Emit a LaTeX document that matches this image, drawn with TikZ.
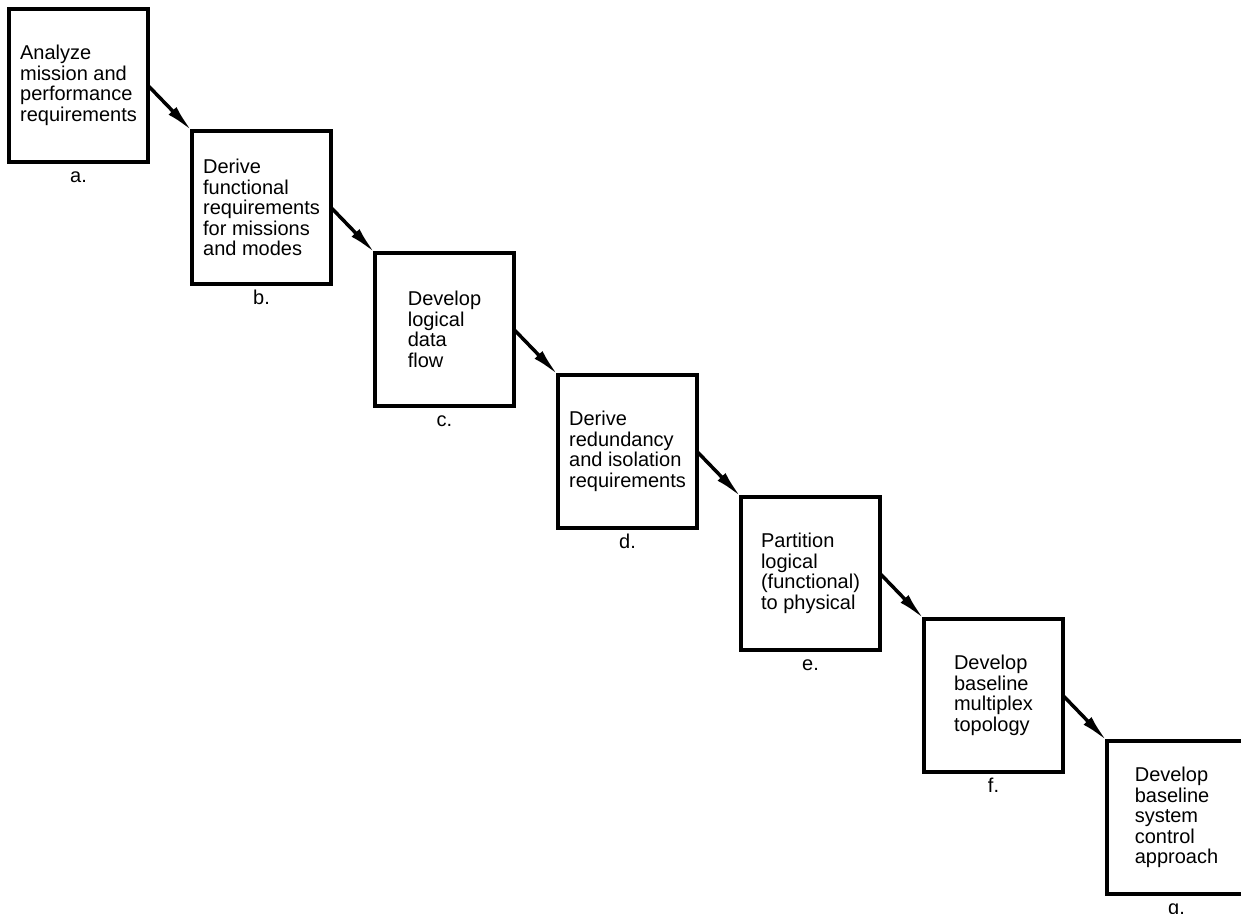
\documentclass[tikz,border=0pt]{standalone}
\usepackage{fontspec}
\setmainfont{Liberation Sans}
\usepackage{tikz}
\usetikzlibrary{positioning,arrows.meta}

\begin{document}
\begin{tikzpicture}[>={Latex[length=28pt,width=11pt]},
    stepbox/.style={draw=black, line width=4pt, rectangle, minimum width=139pt, minimum height=153pt, align=left, font=\fontsize{20}{20.5}\selectfont, inner sep=0pt, outer sep=0pt},
    steptag/.style={font=\fontsize{20}{20.5}\selectfont, text height=11pt, text depth=0pt, inner sep=3pt},
    flow/.style={->, line width=3.5pt}]
      \useasboundingbox (0pt,0pt) rectangle (1241pt,-913pt);

      % Nodes
      \node [stepbox] (a) at (78.5pt,-85.5pt)
        {Analyze\\mission and\\performance\\requirements};

      \node [stepbox, below right=-31pt and 44pt of a] (b)
        {Derive\\functional\\requirements\\for missions\\and modes};

      \node [stepbox, below right=-31pt and 44pt of b] (c)
        {Develop\\logical\\data\\flow};

      \node [stepbox, below right=-31pt and 44pt of c] (d)
        {Derive\\redundancy\\and isolation\\requirements};

      \node [stepbox, below right=-31pt and 44pt of d] (e)
        {Partition\\logical\\(functional)\\to physical};

      \node [stepbox, below right=-31pt and 44pt of e] (f)
        {Develop\\baseline\\multiplex\\topology};

      \node [stepbox, below right=-31pt and 44pt of f] (g)
        {Develop\\baseline\\system\\control\\approach};

      % Labels
      \node [steptag, below=6pt of a] (tag-a) {a.};
      \node [steptag, below=6pt of b] (tag-b) {b.};
      \node [steptag, below=6pt of c] (tag-c) {c.};
      \node [steptag, below=6pt of d] (tag-d) {d.};
      \node [steptag, below=6pt of e] (tag-e) {e.};
      \node [steptag, below=6pt of f] (tag-f) {f.};
      \node [steptag, below=6pt of g] (tag-g) {g.};

      % Arrows
      \draw [flow] (a.east) -- (b.north west);
      \draw [flow] (b.east) -- (c.north west);
      \draw [flow] (c.east) -- (d.north west);
      \draw [flow] (d.east) -- (e.north west);
      \draw [flow] (e.east) -- (f.north west);
      \draw [flow] (f.east) -- (g.north west);
\end{tikzpicture}
\end{document}
